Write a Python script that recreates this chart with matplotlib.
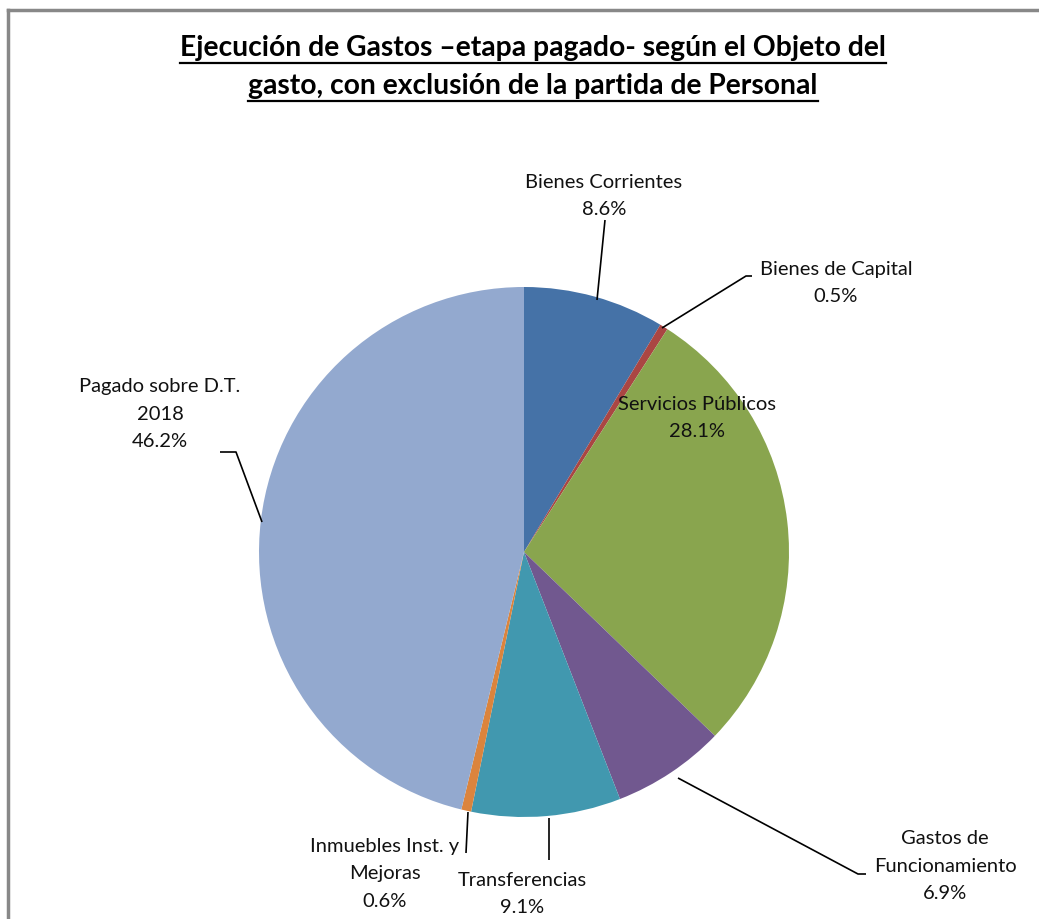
import matplotlib
matplotlib.use("Agg")
import matplotlib.pyplot as plt
from matplotlib.lines import Line2D

W, H = 1039, 919
categories = ["Bienes Corrientes", "Bienes de Capital", "Servicios Públicos",
              "Gastos de\nFuncionamiento", "Transferencias",
              "Inmuebles Inst. y\nMejoras", "Pagado sobre D.T.\n2018"]
values = [8.6, 0.5, 28.1, 6.9, 9.1, 0.6, 46.2]
colors = ["#4572A7", "#AA4643", "#89A54E", "#71588F", "#4198AF", "#DB843D", "#93A9CF"]
title_lines = ["Ejecución de Gastos –etapa pagado- según el Objeto del",
               "gasto, con exclusión de la partida de Personal"]

plt.rcParams['font.family'] = ['Lato', 'DejaVu Sans']

fig = plt.figure(figsize=(W / 100, H / 100), dpi=100)
ax = fig.add_axes([0, 0, 1, 1])

def py(y):
    return H - y

cx, cy, R = 524, 552, 265
ax.pie(values, colors=colors, startangle=90, counterclock=False,
       center=(cx, py(cy)), radius=R, frame=False,
       wedgeprops=dict(linewidth=0))
ax.set_xlim(0, W)
ax.set_ylim(0, H)
ax.set_aspect('auto')
ax.axis('off')

# border (left & top)
fig.add_artist(Line2D([8 / W, 8 / W], [0, 1 - 10 / H], color="#888888", lw=2.5, transform=fig.transFigure))
fig.add_artist(Line2D([8 / W, 1], [1 - 10 / H, 1 - 10 / H], color="#888888", lw=2.5, transform=fig.transFigure))

fs = 14.5
lab_kw = dict(fontsize=fs, ha="center", va="center", color="#111111", linespacing=1.75)

def label(text, x, y):
    ax.text(x, py(y), text, **lab_kw)

def leader(pts):
    xs = [p[0] for p in pts]
    ys = [py(p[1]) for p in pts]
    ax.plot(xs, ys, color="black", lw=1.2, solid_capstyle="butt")

pct = [f"{v:.1f}%" for v in values]
label(f"{categories[0]}\n{pct[0]}", 604, 196)
leader([(597, 300), (605, 220)])

label(f"{categories[1]}\n{pct[1]}", 836, 283)
leader([(662, 328), (746, 276), (752, 276)])

label(f"{categories[2]}\n{pct[2]}", 697, 418)

label(f"{categories[3]}\n{pct[3]}", 945, 866)
leader([(678, 778), (858, 874), (866, 874)])

label(f"{categories[4]}\n{pct[4]}", 522, 894)
leader([(549, 818), (549, 860)])

label(f"{categories[5]}\n{pct[5]}", 385, 874)
leader([(468, 812), (466, 853)])

label(f"{categories[6]}\n{pct[6]}", 160, 414)
leader([(262, 522), (236, 452), (220, 452)])

# title with underline
fig.canvas.draw()
renderer = fig.canvas.get_renderer()
for i, (t, y) in enumerate(zip(title_lines, [48, 86])):
    txt = ax.text(533, py(y), t, fontsize=20.3, fontweight="bold", ha="center", va="center", color="black")
    bb = txt.get_window_extent(renderer=renderer)
    inv = ax.transData.inverted()
    (x0, _), (x1, _) = inv.transform([(bb.x0, bb.y0), (bb.x1, bb.y0)])
    uy = py(y + 15)
    ax.plot([x0, x1], [uy, uy], color="black", lw=1.6)

fig.savefig("out.png", dpi=100)
